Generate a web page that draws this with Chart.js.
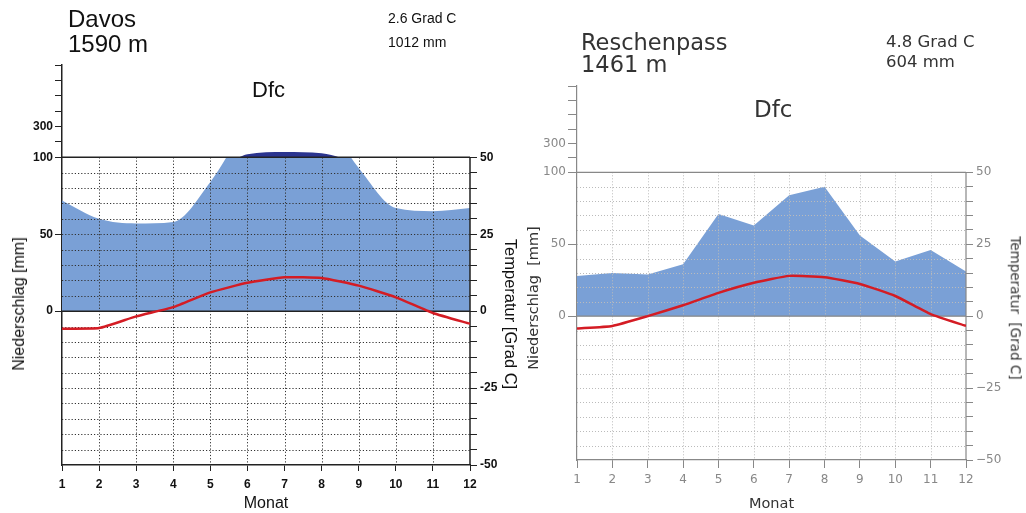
<!DOCTYPE html>
<html>
<head>
<meta charset="utf-8">
<script src="https://cdn.jsdelivr.net/npm/chart.js@4.4.1/dist/chart.umd.min.js"></script>
<style>
  body { margin: 0; width: 1026px; height: 513px; position: relative; background: #fff; overflow: hidden; }
  .panel { position: absolute; top: 0; width: 513px; height: 513px; }
  .txt { position: absolute; white-space: nowrap; line-height: 1; }
  .l { font-family: 'Liberation Sans', Arial, sans-serif; color: #111; }
  .r { font-family: 'DejaVu Sans', sans-serif; color: #333; }
  .rot { position: absolute; white-space: nowrap; line-height: 1; transform: translate(-50%, -50%) rotate(-90deg); }
  .rot.cw { transform: translate(-50%, -50%) rotate(90deg); }
</style>
</head>
<body>
<div class="panel" style="left:0"><canvas id="davos"></canvas></div>
<div class="panel" style="left:513px"><canvas id="reschen"></canvas></div>

<div class="txt l" style="left:68px;top:7px;font-size:24px">Davos</div>
<div class="txt l" style="left:68px;top:32px;font-size:24px">1590 m</div>
<div class="txt l" style="left:388px;top:11px;font-size:14px">2.6 Grad C</div>
<div class="txt l" style="left:388px;top:35px;font-size:14px">1012 mm</div>
<div class="txt l" style="left:252px;top:79px;font-size:22px">Dfc</div>
<div class="rot l" style="left:19px;top:304px;font-size:16px">Niederschlag [mm]</div>
<div class="rot cw l" style="left:511px;top:314px;font-size:16.5px">Temperatur [Grad C]</div>

<div class="txt r" style="left:581px;top:31px;font-size:22.5px">Reschenpass</div>
<div class="txt r" style="left:581px;top:53px;font-size:22.5px">1461 m</div>
<div class="txt r" style="left:886px;top:34px;font-size:16.5px">4.8 Grad C</div>
<div class="txt r" style="left:886px;top:54px;font-size:16.5px">604 mm</div>
<div class="txt r" style="left:754px;top:98px;font-size:23px">Dfc</div>
<div class="rot r" style="left:533px;top:298px;font-size:14.5px">Niederschlag&nbsp; [mm]</div>
<div class="rot cw r" style="left:1015px;top:308px;font-size:13.5px">Temperatur&nbsp; [Grad C]</div>

<script>
const months = [1, 2, 3, 4, 5, 6, 7, 8, 9, 10, 11, 12];
const davosPrecip = [72, 60, 57, 58, 84, 120, 134, 126, 93, 67, 65, 67];
const davosTemp = [-5.7, -5.5, -1.7, 1.3, 6.1, 9.2, 11.0, 10.8, 8.3, 4.5, -0.6, -4.1];
const reschenPrecip = [28, 30, 29, 36, 71, 63, 84, 90, 56, 38, 46, 31];
const reschenTemp = [-4.3, -3.4, 0, 3.8, 8.1, 11.6, 14.0, 13.5, 11.2, 7.0, 0.7, -3.4];
const precipTicks = [0, 50, 100, 200, 300, 400, 500, 600, 700];
const precipLabels = ['0', '50', '100', '', '300', '', '', '', ''];
const tempLabelled = [-50, -25, 0, 25, 50];

// above 100 mm the scale is squeezed 1:10 (Walter-Lieth)
function squeeze(v) {
  return v <= 100 ? v : 100 + (v - 100) / 10;
}

function makeChart(id, precip, temp, s) {
  const pts = (arr, f) => arr.map((v, i) => ({ x: months[i], y: f(v) }));

  const gridPlugin = {
    id: 'climateGrid',
    beforeDatasetsDraw(chart) {
      // light blue (drawn first) only up to the 100 mm line
      const { ctx, chartArea: a, scales } = chart;
      const top = scales.y.getPixelForValue(100);
      ctx.save();
      ctx.beginPath();
      ctx.rect(a.left, top, a.right - a.left, a.bottom - top);
      ctx.clip();
    },
    afterDatasetDraw(chart, args) {
      if (args.index === 2) chart.ctx.restore();
    },
    beforeDatasetDraw(chart, args) {
      if (args.index !== 0) return;
      const { ctx, chartArea: a, scales } = chart;
      const top = scales.y.getPixelForValue(100);
      ctx.save();
      ctx.lineWidth = 1;
      ctx.strokeStyle = s.dot;
      ctx.setLineDash(s.dash);
      ctx.beginPath();
      months.slice(1, -1).forEach(m => {
        const px = Math.round(scales.x.getPixelForValue(m)) + 0.5;
        ctx.moveTo(px, top);
        ctx.lineTo(px, a.bottom);
      });
      for (let t = -45; t <= 45; t += 5) {
        if (t === 0) continue;
        const py = Math.round(scales.y2.getPixelForValue(t)) + 0.5;
        ctx.moveTo(a.left, py);
        ctx.lineTo(a.right, py);
      }
      ctx.stroke();
      ctx.setLineDash([]);
      ctx.strokeStyle = s.axis;
      ctx.lineWidth = s.axisWidth;
      ctx.beginPath();
      [0, 100].forEach(v => {
        const py = scales.y.getPixelForValue(v);
        ctx.moveTo(a.left, py);
        ctx.lineTo(a.right, py);
      });
      ctx.moveTo(a.right, top);
      ctx.lineTo(a.right, a.bottom);
      ctx.stroke();
      ctx.restore();
    }
  };

  const tickFont = { family: s.family, size: 12, weight: s.tickWeight };
  const mode = s.smooth ? 'monotone' : 'default';

  return new Chart(document.getElementById(id), {
    type: 'line',
    data: {
      datasets: [
        {
          label: 'Temperatur',
          data: pts(temp, v => v),
          yAxisID: 'y2',
          borderColor: '#d41c24',
          borderWidth: 2.5,
          pointRadius: 0,
          tension: 0.15,
          fill: false
        },
        {
          label: 'Niederschlag > 100',
          data: pts(precip, squeeze),
          yAxisID: 'y',
          borderWidth: 0,
          pointRadius: 0,
          cubicInterpolationMode: mode,
          backgroundColor: '#2b348f',
          fill: { target: { value: 100 }, above: '#2b348f', below: 'rgba(0,0,0,0)' }
        },
        {
          label: 'Niederschlag',
          data: pts(precip, v => v),
          yAxisID: 'y',
          borderWidth: 0,
          pointRadius: 0,
          cubicInterpolationMode: mode,
          backgroundColor: '#7aa0d6',
          fill: 'origin'
        }
      ]
    },
    options: {
      responsive: true,
      maintainAspectRatio: false,
      animation: false,
      layout: { padding: { top: s.top, left: 0, right: 0, bottom: 0 } },
      plugins: { legend: { display: false }, tooltip: { enabled: false } },
      scales: {
        x: {
          type: 'linear',
          min: 1,
          max: 12,
          afterFit: sc => { sc.height = s.xHeight; },
          afterBuildTicks: sc => { sc.ticks = months.map(v => ({ value: v })); },
          ticks: { autoSkip: false, maxRotation: 0, padding: s.xPad, color: s.tickText, font: tickFont },
          grid: { drawOnChartArea: false, color: s.axis, tickLength: s.xTick },
          border: { color: s.axis, width: s.axisWidth },
          title: { display: true, text: 'Monat', color: s.titleColor, font: { family: s.family, size: s.titleSize }, padding: 0 }
        },
        y: {
          type: 'linear',
          min: -100,
          max: 160,
          afterFit: sc => { sc.width = s.yWidth; },
          afterBuildTicks: sc => { sc.ticks = precipTicks.map(v => ({ value: squeeze(v) })); },
          ticks: { autoSkip: false, padding: 2, color: s.tickText, font: tickFont, callback: (v, i) => precipLabels[i] },
          grid: { drawOnChartArea: false, color: s.axis, tickLength: s.yTick },
          border: { color: s.axis, width: s.axisWidth }
        },
        y2: {
          type: 'linear',
          position: 'right',
          min: -50,
          max: 80,
          afterFit: sc => { sc.width = s.y2Width; },
          afterBuildTicks: sc => {
            const t = [];
            for (let v = -50; v <= 80; v += 5) t.push({ value: v });
            sc.ticks = t;
          },
          ticks: {
            autoSkip: false,
            padding: 3,
            color: s.tickText,
            font: tickFont,
            callback: v => tempLabelled.includes(v) ? String(v).replace('-', s.minus) : ''
          },
          grid: {
            drawOnChartArea: false,
            tickLength: 7,
            color: c => (c.tick && c.tick.value > 50) ? 'rgba(0,0,0,0)' : s.axis
          },
          border: { display: false }
        }
      }
    },
    plugins: [gridPlugin]
  });
}

makeChart('davos', davosPrecip, davosTemp, {
  family: "'Liberation Sans', Arial, sans-serif",
  tickWeight: 'bold',
  tickText: '#111',
  titleColor: '#111',
  titleSize: 16,
  axis: '#222',
  axisWidth: 1.5,
  dot: '#333',
  dash: [1.2, 2],
  smooth: true,
  minus: '-',
  top: 65,
  xHeight: 48,
  yWidth: 62,
  y2Width: 43,
  xTick: 6,
  xPad: 6,
  yTick: 7
});

makeChart('reschen', reschenPrecip, reschenTemp, {
  family: "'DejaVu Sans', sans-serif",
  tickWeight: 'normal',
  tickText: '#888',
  titleColor: '#333',
  titleSize: 14.5,
  axis: '#888',
  axisWidth: 1.2,
  dot: '#bbb',
  dash: [1, 2],
  smooth: false,
  minus: '\u2212',
  top: 86,
  xHeight: 53,
  yWidth: 64,
  y2Width: 60,
  xTick: 8,
  xPad: 5,
  yTick: 9
});
</script>
</body>
</html>
